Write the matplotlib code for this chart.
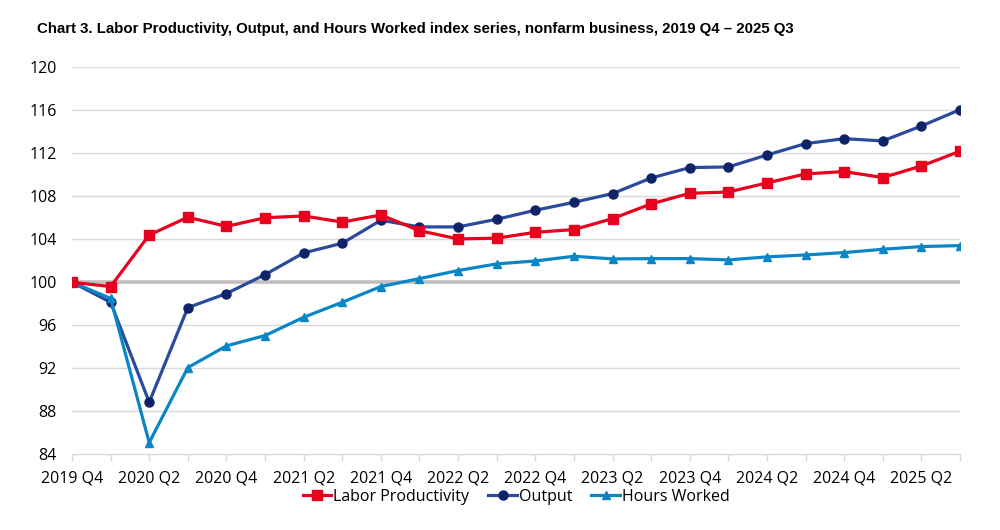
import numpy as np
import matplotlib.pyplot as plt

# quarters 2019 Q4 .. 2025 Q3
quarters = ["2019 Q4", "2020 Q1", "2020 Q2", "2020 Q3", "2020 Q4", "2021 Q1", "2021 Q2", "2021 Q3",
            "2021 Q4", "2022 Q1", "2022 Q2", "2022 Q3", "2022 Q4", "2023 Q1", "2023 Q2", "2023 Q3",
            "2023 Q4", "2024 Q1", "2024 Q2", "2024 Q3", "2024 Q4", "2025 Q1", "2025 Q2", "2025 Q3"]

productivity = [100.0, 99.6, 104.4, 106.05, 105.2, 106.0, 106.17, 105.6, 106.26, 104.8, 104.03, 104.1,
                104.65, 104.9, 105.92, 107.29, 108.28, 108.4, 109.24, 110.08, 110.3, 109.74, 110.82, 112.19]
output = [100.0, 98.14, 88.84, 97.64, 98.95, 100.71, 102.73, 103.63, 105.77, 105.15, 105.15, 105.86,
          106.7, 107.44, 108.25, 109.7, 110.67, 110.73, 111.84, 112.9, 113.36, 113.15, 114.54, 116.06]
hours = [100.0, 98.5, 85.08, 92.06, 94.08, 95.04, 96.74, 98.14, 99.6, 100.34, 101.09, 101.71,
         101.98, 102.42, 102.17, 102.2, 102.2, 102.08, 102.36, 102.54, 102.76, 103.07, 103.32, 103.41]

yticks = [84, 88, 92, 96, 100, 104, 108, 112, 116, 120]

RED = "#e8001e"
NAVY_LINE = "#2a4a9c"
NAVY_MARK = "#0f2466"
BLUE = "#0a86c6"

plt.rcParams['font.family'] = ['Open Sans', 'DejaVu Sans']

x = np.arange(len(quarters))

fig = plt.figure(figsize=(10, 5.3), dpi=100)
ax = fig.add_axes([0.072, 0.143, 0.888, 0.730])

#GRID + BASELINE
for v in yticks:
    if v == 100:
        ax.axhline(v, color="#bfbfbf", lw=2.6, zorder=1)
    elif v != 84:
        ax.axhline(v, color="#d9d9d9", lw=1.0, zorder=1)

ax.plot(x, productivity, color=RED, lw=2.3, marker="s", ms=6.5, mfc=RED, mec=RED,
        label="Labor Productivity", zorder=4)
ax.plot(x, output, color=NAVY_LINE, lw=2.3, marker="o", ms=6.5, mfc=NAVY_MARK, mec=NAVY_MARK,
        label="Output", zorder=3)
ax.plot(x, hours, color=BLUE, lw=2.3, marker="^", ms=6, mfc=BLUE, mec=BLUE,
        label="Hours Worked", zorder=3)

ax.set_xlim(0, len(quarters) - 1)
ax.set_ylim(84, 120)
ax.set_yticks(yticks)
ax.set_xticks(x)
ax.set_xticklabels([q if i % 2 == 0 else "" for i, q in enumerate(quarters)])

for s in ["top", "right", "left"]:
    ax.spines[s].set_visible(False)
ax.spines["bottom"].set_color("#d9d9d9")
ax.spines["bottom"].set_linewidth(1.0)
ax.tick_params(axis="y", length=0, pad=11, labelsize=11.5, colors="#000000")
ax.tick_params(axis="x", length=5, width=1.0, color="#d9d9d9", pad=7, labelsize=11.5)

fig.text(0.037, 0.945, "Chart 3. Labor Productivity, Output, and Hours Worked index series, nonfarm business, 2019 Q4 \u2013 2025 Q3",
         fontsize=10.8, fontweight="bold", family=["Liberation Sans", "DejaVu Sans"], ha="left", va="center")

ax.legend(loc="center", bbox_to_anchor=(0.5, -0.11), ncol=3, frameon=False, fontsize=11.5,
          handlelength=1.8, handletextpad=0.1, columnspacing=1.2, borderaxespad=0)

fig.savefig("out.png", dpi=100)
